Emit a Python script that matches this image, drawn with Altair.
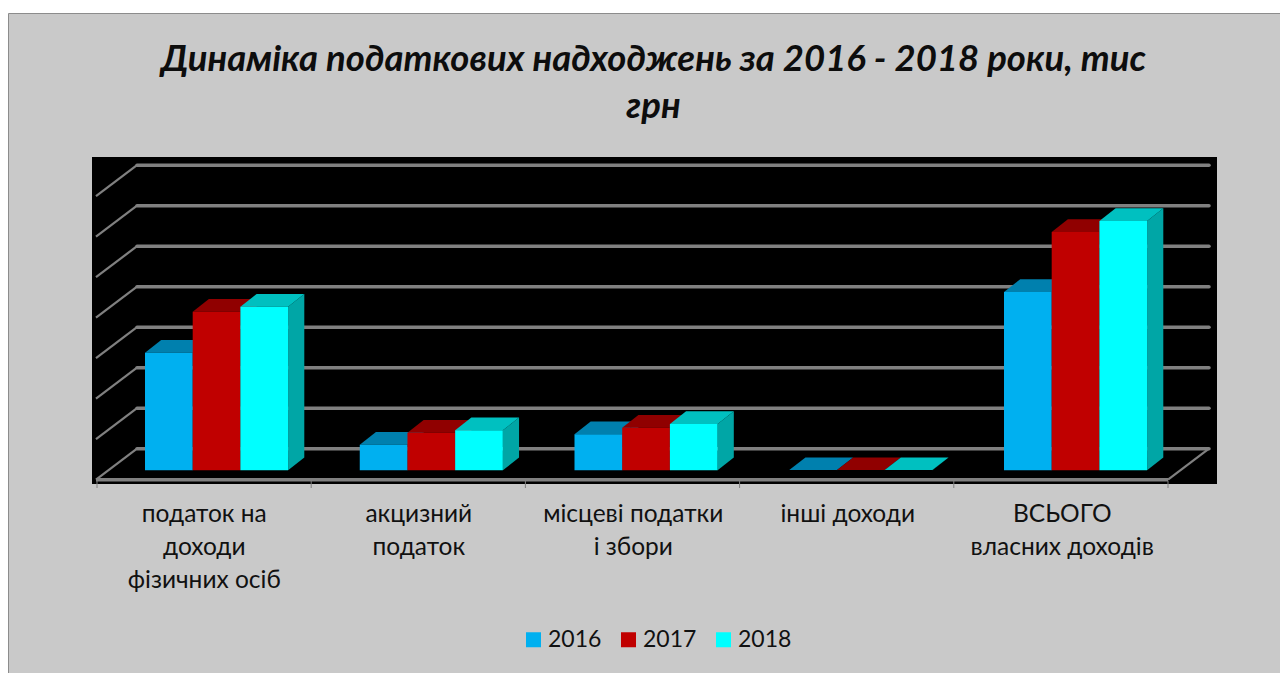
import altair as alt
import pandas as pd

categories = ["податок на\nдоходи\nфізичних осіб", "акцизний\nподаток", "місцеві податки\nі збори", "інші доходи", "ВСЬОГО\nвласних доходів"]
years = ["2016", "2017", "2018"]
v2016 = [58100, 12650, 17800, 100, 88050]
v2017 = [78300, 18550, 21050, 100, 117700]
v2018 = [80800, 19750, 22850, 100, 123100]
grid_values = [0, 20000, 40000, 60000, 80000, 100000, 120000, 140000]
title_text = "Динаміка податкових надходжень за 2016 - 2018 роки, тис\nгрн"

front_colors = ["#00b0f0", "#c00000", "#00ffff"]
top_colors = ["#0080ae", "#900000", "#00c0c0"]
side_colors = ["#0080ae", "#900000", "#00a6a6"]
GRID = "#808080"
FONT = "Lato"

# geometry of the fake 3-D box, in data units
X_DOMAIN = [-5 / 214.5, 1120 / 214.5]
Y_DOMAIN = [-17432, 144049]
BAR_W = 47.7 / 214.5
BAR_START = 48 / 214.5
GROUP_STEP = 214.75 / 214.5
DX = 16.2 / 214.5
DY = 6272
BASE = -10667
WALL_DX = 41 / 214.5
WALL_DY = 15309
X_LEFT = -1 / 214.5
X_RIGHT = 1071 / 214.5

xs = alt.Scale(domain=X_DOMAIN, nice=False, zero=False)
ys = alt.Scale(domain=Y_DOMAIN, nice=False, zero=False)
X = lambda f="x": alt.X(f"{f}:Q", scale=xs, axis=None)
Y = lambda f="y": alt.Y(f"{f}:Q", scale=ys, axis=None, stack=None)

series = [v2016, v2017, v2018]
fronts, tops, sides = [], [], []
for k, (yr, vals) in enumerate(zip(years, series)):
    for i, v in enumerate(vals):
        x0 = i * GROUP_STEP + BAR_START + k * BAR_W
        x1 = x0 + BAR_W
        yt = BASE + v
        fronts.append({"year": yr, "cat": i, "x": x0, "x2": x1, "y": BASE, "y2": yt})
        for px, a, b in [(x0, yt, yt), (x0 + DX, yt + DY, yt), (x1, yt + DY, yt), (x1 + DX, yt + DY, yt + DY)]:
            tops.append({"year": yr, "cat": i, "x": px, "y": a, "y2": b})
        for px, a, b in [(x1, yt, BASE), (x1 + DX, yt + DY, BASE + DY)]:
            sides.append({"year": yr, "cat": i, "x": px, "y": a, "y2": b})
fronts, tops, sides = pd.DataFrame(fronts), pd.DataFrame(tops), pd.DataFrame(sides)

blank = alt.Data(values=[{"a": 1}])
panel = alt.Chart(blank).mark_rect(fill="#c9c9c9", stroke="#8c8c8c", strokeWidth=1).encode(
    x=alt.value(-83.5), x2=alt.value(1210), y=alt.value(-143.5), y2=alt.value(530))
black = alt.Chart(blank).mark_rect(fill="black").encode(
    x=alt.value(0), x2=alt.value(1125), y=alt.value(0), y2=alt.value(327))

diag = pd.DataFrame(
    [{"g": g, "x": X_LEFT, "y": g - WALL_DY} for g in grid_values]
    + [{"g": g, "x": X_LEFT + WALL_DX, "y": g} for g in grid_values]
)
wall = pd.DataFrame([{"x": X_LEFT + WALL_DX, "x2": X_RIGHT + WALL_DX, "y": g} for g in grid_values])
floor = pd.DataFrame([
    {"x": X_RIGHT, "y": -WALL_DY},
    {"x": X_RIGHT + WALL_DX, "y": 0},
])
front_edge = pd.DataFrame([{"x": X_LEFT, "x2": X_RIGHT, "y": -WALL_DY}])
ticks = pd.DataFrame([{"x": i * 1071 / 5 / 214.5} for i in range(6)])

wall_layer = alt.Chart(wall).mark_rule(color=GRID, strokeWidth=3.5, strokeCap="round").encode(x=X(), x2="x2:Q", y=Y())
diag_layer = alt.Chart(diag).mark_line(color=GRID, strokeWidth=2.2).encode(x=X(), y=Y(), detail="g:N")
floor_layer = alt.Chart(floor).mark_line(color=GRID, strokeWidth=2.2).encode(x=X(), y=Y())
edge_layer = alt.Chart(front_edge).mark_rule(color=GRID, strokeWidth=3.5).encode(x=X(), x2="x2:Q", y=Y())
tick_layer = alt.Chart(ticks).mark_rule(color=GRID, strokeWidth=1).encode(x=X(), y=alt.value(324), y2=alt.value(331))

face_layers = []
for k, yr in enumerate(years):
    s = sides[sides.year == yr]
    t = tops[tops.year == yr]
    face_layers.append(alt.Chart(s).mark_area(color=side_colors[k], orient="vertical").encode(x=X(), y=Y(), y2="y2:Q", detail="cat:N"))
    face_layers.append(alt.Chart(t).mark_area(color=top_colors[k], orient="vertical").encode(x=X(), y=Y(), y2="y2:Q", detail="cat:N"))

front_layer = alt.Chart(fronts[fronts.y2 - fronts.y > 1000]).mark_rect().encode(
    x=X(), x2="x2:Q", y=Y(), y2="y2:Q",
    color=alt.Color("year:N", scale=alt.Scale(domain=years, range=front_colors), legend=alt.Legend(
        title=None, orient="none", legendX=430, legendY=471, direction="horizontal", columns=3,
        symbolType="square", symbolSize=225, symbolStrokeWidth=0, symbolOpacity=1,
        labelFont=FONT, labelFontSize=23, labelColor="#111111", labelOffset=3, columnPadding=15, labelLimit=200,
    )),
)

lab = pd.DataFrame({"label": categories, "x": [i + 0.5 for i in range(5)]})
label_layer = alt.Chart(lab).mark_text(
    lineBreak="\n", font=FONT, fontSize=24.5, color="#111111", lineHeight=33, align="center", baseline="alphabetic"
).encode(x=X(), y=alt.value(364.5), text="label:N")

title_layer = alt.Chart(alt.Data(values=[{"t": title_text}])).mark_text(
    lineBreak="\n", font=FONT, fontSize=36.5, fontWeight="bold", fontStyle="italic", color="#0d0d0d",
    lineHeight=47, align="center", baseline="alphabetic",
).encode(x=alt.value(561.5), y=alt.value(-86), text="t:N")

chart = alt.layer(
    panel, black, wall_layer, diag_layer, floor_layer, edge_layer, tick_layer,
    *face_layers, front_layer, label_layer, title_layer,
).properties(
    width=1125, height=327,
    padding={"left": 84, "top": 149, "right": 63, "bottom": 189},
    autosize=alt.AutoSizeParams(type="none"),
    background="white",
).configure_view(stroke=None)

chart.save("out.html", embed_options={"renderer": "svg", "actions": False})
